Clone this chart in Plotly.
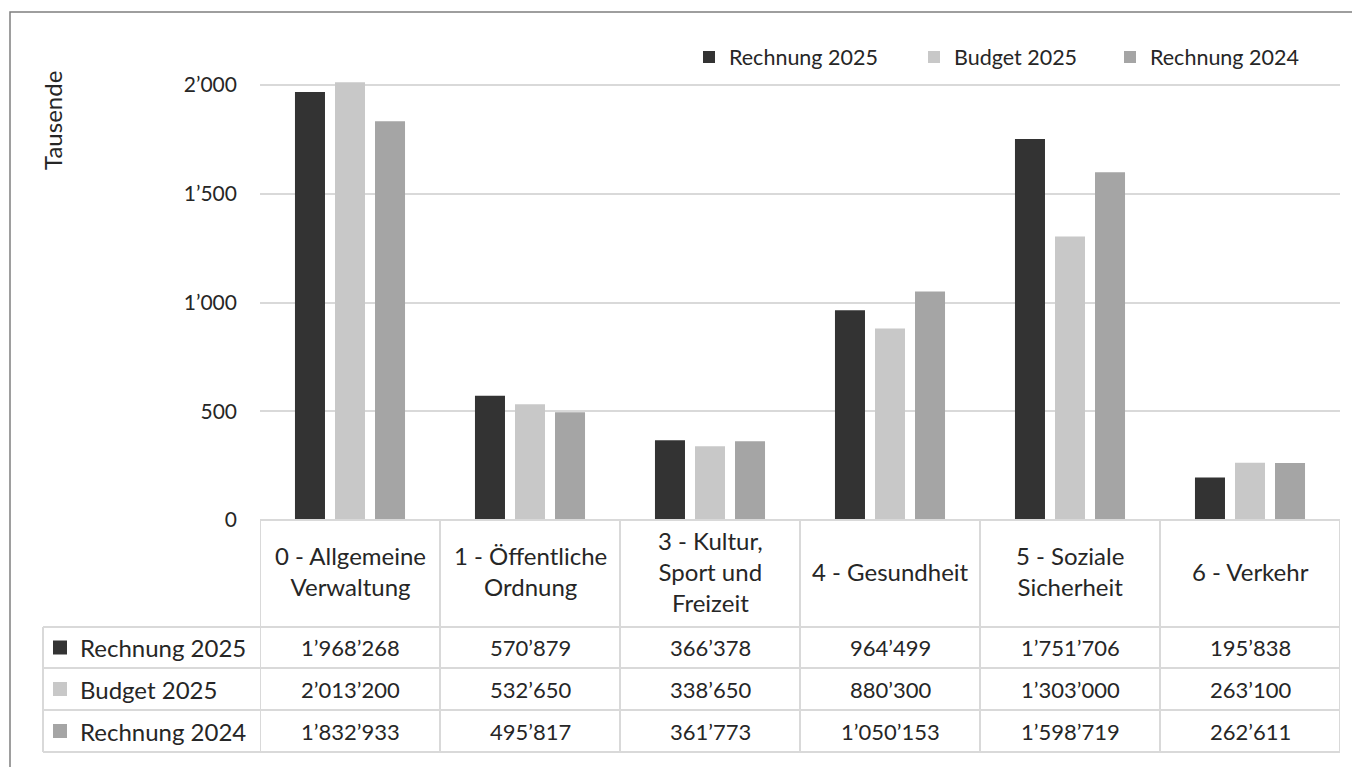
import plotly.graph_objects as go

categories = ["0 - Allgemeine<br>Verwaltung", "1 - Öffentliche<br>Ordnung",
              "3 - Kultur,<br>Sport und<br>Freizeit", "4 - Gesundheit",
              "5 - Soziale<br>Sicherheit", "6 - Verkehr"]
series_names = ["Rechnung 2025", "Budget 2025", "Rechnung 2024"]
rechnung_2025 = [1968268, 570879, 366378, 964499, 1751706, 195838]
budget_2025 = [2013200, 532650, 338650, 880300, 1303000, 263100]
rechnung_2024 = [1832933, 495817, 361773, 1050153, 1598719, 262611]
colors = ["#333333", "#c8c8c8", "#a5a5a5"]
y_ticks = [0, 500, 1000, 1500, 2000]

series = [rechnung_2025, budget_2025, rechnung_2024]
FONT = "Lato"
TXT = "#262626"
GRID = "#d9d9d9"

OFF = 8  # page body margin
W, H = 1360 - OFF, 767 - OFF
# target page pixel geometry
PLOT_L, PLOT_R, PLOT_B, PLOT_T = 260, 1340, 520, 48
L, R, T, B = PLOT_L - OFF, (1360 - PLOT_R), PLOT_T - OFF, (767 - PLOT_B)
PW, PH = PLOT_R - PLOT_L, PLOT_B - PLOT_T


def px(x):
    return (x - PLOT_L) / PW


def py(y):
    return (PLOT_B - y) / PH


def fmt(v):
    return f"{v:,}".replace(",", "’")


legend_ids = ["legend", "legend2", "legend3"]
legend_centers = [710, 935, 1131]  # page x of legend key centres

idx = list(range(len(categories)))
fig = go.Figure()
for name, vals, c, lid in zip(series_names, series, colors, legend_ids):
    fig.add_trace(go.Bar(x=idx, y=[v / 1000 for v in vals], name=name, legend=lid,
                         showlegend=True,
                         marker=dict(color=c, line=dict(width=0))))

shapes = []
ann = []
# outer chart border
shapes.append(dict(type="rect", xref="paper", yref="paper", x0=px(10), x1=px(1380),
                   y0=py(790), y1=py(12), line=dict(color="#7f7f7f", width=1.5)))
# table grid
rows_y = [520, 627, 668, 710, 752]
for i, yy in enumerate(rows_y):
    x0 = px(260) if i == 0 else px(43)
    shapes.append(dict(type="line", xref="paper", yref="paper", x0=x0, x1=1,
                       y0=py(yy), y1=py(yy), line=dict(color=GRID, width=2)))
for k in range(len(categories) + 1):
    shapes.append(dict(type="line", xref="x", yref="paper", x0=k - 0.5, x1=k - 0.5,
                       y0=py(520), y1=py(752), line=dict(color=GRID, width=2)))
shapes.append(dict(type="line", xref="paper", yref="paper", x0=px(43), x1=px(43),
                   y0=py(627), y1=py(752), line=dict(color=GRID, width=2)))

# header labels
for k, cat in enumerate(categories):
    ann.append(dict(x=k, xref="x", y=py(571), yref="paper", text=cat, showarrow=False,
                    xanchor="center", yanchor="middle",
                    font=dict(family=FONT, size=24, color=TXT)))
# rows
for r, (name, vals, c) in enumerate(zip(series_names, series, colors)):
    yc = (rows_y[r + 1] + rows_y[r + 2]) / 2
    shapes.append(dict(type="rect", xref="paper", yref="paper", x0=px(53), x1=px(67),
                       y0=py(yc + 7), y1=py(yc - 7), line=dict(width=0), fillcolor=c))
    ann.append(dict(x=px(78), xref="paper", y=py(yc), yref="paper", text=name,
                    showarrow=False, xanchor="left", yanchor="middle",
                    font=dict(family=FONT, size=24, color=TXT)))
    for k, v in enumerate(vals):
        ann.append(dict(x=k, xref="x", y=py(yc), yref="paper", text=fmt(v),
                        showarrow=False, xanchor="center", yanchor="middle",
                        font=dict(family=FONT, size=22, color=TXT)))

ann.append(dict(x=px(52), xref="paper", y=py(121), yref="paper", text="Tausende",
                textangle=-90, showarrow=False, xanchor="center", yanchor="middle",
                font=dict(family=FONT, size=24, color=TXT)))

legends = {}
for lid, cx in zip(legend_ids, legend_centers):
    legends[lid] = dict(orientation="h", xref="container", x=(cx - 21 - OFF) / W,
                        xanchor="left", yref="container", y=1 - (57 - OFF) / H,
                        yanchor="middle", font=dict(family=FONT, size=21.5, color=TXT),
                        bgcolor="rgba(0,0,0,0)", itemclick=False, visible=True)

fig.update_layout(
    width=W, height=H,
    margin=dict(l=L, r=R, t=T, b=B, autoexpand=False),
    paper_bgcolor="white", plot_bgcolor="white",
    separators=".’",
    showlegend=True,
    barmode="group", bargap=0.333, bargroupgap=0.25,
    font=dict(family=FONT, size=21, color=TXT),
    shapes=shapes, annotations=ann,
    xaxis=dict(range=[-0.5, len(categories) - 0.5], showticklabels=False,
               showgrid=False, zeroline=False, showline=False, ticks=""),
    yaxis=dict(range=[0, 2000 * PH / 435], tickvals=y_ticks, separatethousands=True,
               showgrid=True, gridcolor=GRID, gridwidth=1.5, zeroline=False,
               showline=False, ticks="", ticklabelstandoff=22,
               tickfont=dict(family=FONT, size=21, color=TXT)),
    **legends,
)

fig.write_html("out.html")
